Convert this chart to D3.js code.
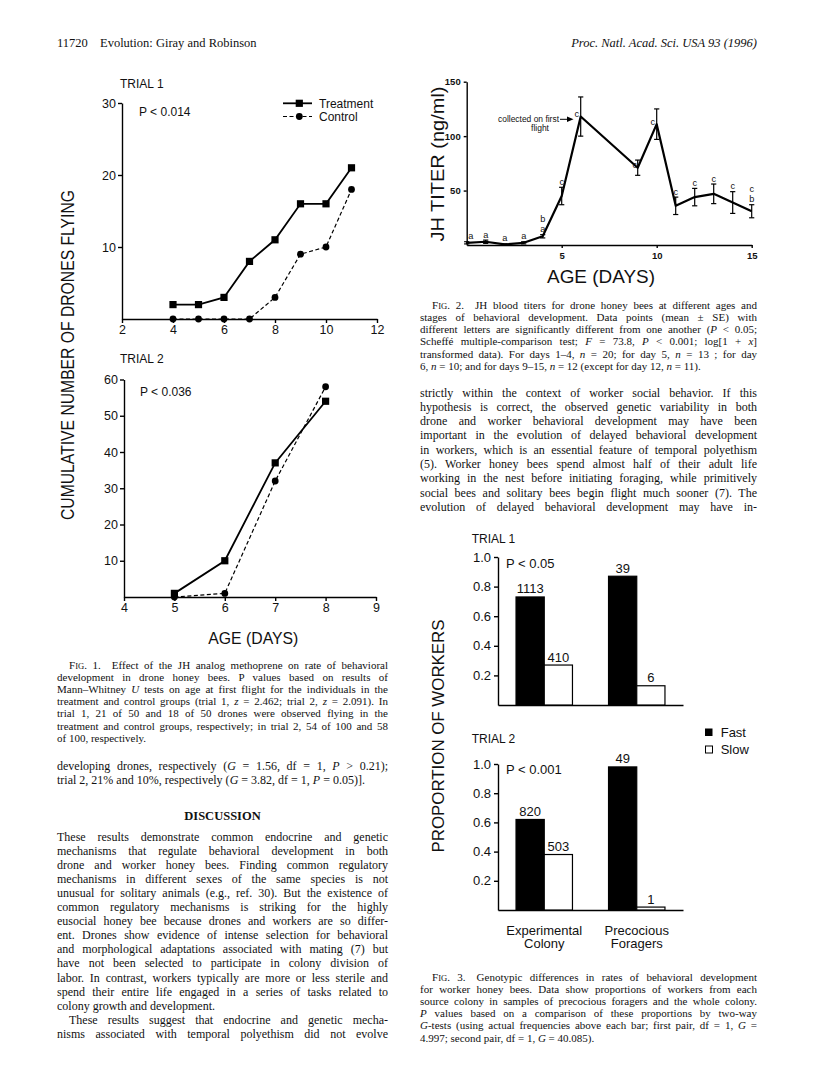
<!DOCTYPE html>
<html>
<head>
<meta charset="utf-8">
<script src="https://cdn.jsdelivr.net/npm/d3@7/dist/d3.min.js"></script>
<style>html,body{margin:0;padding:0;background:#fff}svg{display:block}</style>
</head>
<body>
<svg id="page" width="816" height="1082" xmlns="http://www.w3.org/2000/svg"></svg>
<script>
// ================= DATA =================
// Fig. 1, trial 1 (cumulative number of drones flying)
const t1Days = [4, 5, 6, 7, 8, 9, 10, 11];
const t1Treatment = [2, 2, 3, 8, 11, 16, 16, 21];
const t1Control = [0, 0, 0, 0, 3, 9, 10, 18];
const t1XTicks = [2, 4, 6, 8, 10, 12];
const t1YTicks = [10, 20, 30];
// Fig. 1, trial 2
const t2Days = [5, 6, 7, 8];
const t2Treatment = [1, 10, 37, 54];
const t2Control = [0, 1, 32, 58];
const t2XTicks = [4, 5, 6, 7, 8, 9];
const t2YTicks = [10, 20, 30, 40, 50, 60];
// Fig. 2, JH titer (ng/ml) mean and SE
const jhDays = [0, 1, 2, 3, 4, 5, 6, 9, 10, 11, 12, 13, 14, 15];
const jhMean = [2, 3, 0.5, 2, 8, 45, 118, 71, 111, 36, 44, 47, 39, 31];
const jhSE = [1, 1.5, 0.5, 1, 1.5, 8, 18, 7, 14, 8, 8, 9, 10, 6];
const jhLetters = [["a"], ["a"], ["a"], ["a"], ["b", "a"], ["c"], ["c"], ["c"], ["c"], ["c"], ["c"], ["c"], ["c"], ["c", "b"]];
const jhXTicks = [5, 10, 15];
const jhYTicks = [50, 100, 150];
// Fig. 3, proportion of workers
const f3Groups = ["Experimental Colony", "Precocious Foragers"];
const f3Sources = ["Fast", "Slow"];
const f3Trial1Prop = [[0.73, 0.27], [0.87, 0.13]];
const f3Trial1N = [[1113, 410], [39, 6]];
const f3Trial2Prop = [[0.62, 0.38], [0.98, 0.02]];
const f3Trial2N = [[820, 503], [49, 1]];
const f3YTicks = [0.2, 0.4, 0.6, 0.8, 1.0];

// ================= TEXT =================
const headerLeftNum = "11720";
const headerLeft = "Evolution: Giray and Robinson";
const headerRight = "Proc. Natl. Acad. Sci. USA 93 (1996)";

const fig1Caption = [
  "F~ig~. 1.\u2003Effect of the JH analog methoprene on rate of behavioral",
  "development in drone honey bees. P values based on results of",
  "Mann–Whitney _U_ tests on age at first flight for the individuals in the",
  "treatment and control groups (trial 1, _z_ = 2.462; trial 2, _z_ = 2.091). In",
  "trial 1, 21 of 50 and 18 of 50 drones were observed flying in the",
  "treatment and control groups, respectively; in trial 2, 54 of 100 and 58",
  "of 100, respectively."
];
const leftCont = [
  "developing drones, respectively (_G_ = 1.56, df = 1, _P_ > 0.21);",
  "trial 2, 21% and 10%, respectively (_G_ = 3.82, df = 1, _P_ = 0.05)]."
];
const discussion = [
  "These results demonstrate common endocrine and genetic",
  "mechanisms that regulate behavioral development in both",
  "drone and worker honey bees. Finding common regulatory",
  "mechanisms in different sexes of the same species is not",
  "unusual for solitary animals (e.g., ref. 30). But the existence of",
  "common regulatory mechanisms is striking for the highly",
  "eusocial honey bee because drones and workers are so differ-",
  "ent. Drones show evidence of intense selection for behavioral",
  "and morphological adaptations associated with mating (7) but",
  "have not been selected to participate in colony division of",
  "labor. In contrast, workers typically are more or less sterile and",
  "spend their entire life engaged in a series of tasks related to",
  "colony growth and development.",
  "These results suggest that endocrine and genetic mecha-",
  "nisms associated with temporal polyethism did not evolve"
];
const fig2Caption = [
  "F~ig~. 2.\u2003JH blood titers for drone honey bees at different ages and",
  "stages of behavioral development. Data points (mean ± SE) with",
  "different letters are significantly different from one another (_P_ < 0.05;",
  "Scheffé multiple-comparison test; _F_ = 73.8, _P_ < 0.001; log[1 + _x_]",
  "transformed data). For days 1–4, _n_ = 20; for day 5, _n_ = 13 ; for day",
  "6, _n_ = 10; and for days 9–15, _n_ = 12 (except for day 12, _n_ = 11)."
];
const rightBody = [
  "strictly within the context of worker social behavior. If this",
  "hypothesis is correct, the observed genetic variability in both",
  "drone and worker behavioral development may have been",
  "important in the evolution of delayed behavioral development",
  "in workers, which is an essential feature of temporal polyethism",
  "(5). Worker honey bees spend almost half of their adult life",
  "working in the nest before initiating foraging, while primitively",
  "social bees and solitary bees begin flight much sooner (7). The",
  "evolution of delayed behavioral development may have in-"
];
const fig3Caption = [
  "F~ig~. 3.\u2003Genotypic differences in rates of behavioral development",
  "for worker honey bees. Data show proportions of workers from each",
  "source colony in samples of precocious foragers and the whole colony.",
  "_P_ values based on a comparison of these proportions by two-way",
  "_G_-tests (using actual frequencies above each bar; first pair, df = 1, _G_ =",
  "4.997; second pair, df = 1, _G_ = 40.085)."
];

// ================= DRAWING =================
const svg = d3.select("#page");
svg.append("rect").attr("width", 816).attr("height", 1082).attr("fill", "#fff");
const SANS = "'Liberation Sans', Arial, Helvetica, sans-serif";
const SERIF = "'Liberation Serif', 'Times New Roman', Times, serif";
const INK = "#111";

function parseRich(str) {
  const segs = []; let cur = ""; let st = { i: false, sc: false, b: false };
  for (const ch of str) {
    if (ch === "_" || ch === "~" || ch === "*") {
      if (cur) segs.push({ t: cur, ...st }); cur = "";
      if (ch === "_") st = { ...st, i: !st.i };
      else if (ch === "~") st = { ...st, sc: !st.sc };
      else st = { ...st, b: !st.b };
    } else cur += ch;
  }
  if (cur) segs.push({ t: cur, ...st });
  return segs;
}
function textLine(x, y, str, o) {
  const t = svg.append("text").attr("x", x).attr("y", y)
    .attr("font-family", o.family || SERIF).attr("font-size", o.size)
    .attr("fill", INK).attr("text-anchor", o.anchor || "start");
  if (o.italic) t.attr("font-style", "italic");
  if (o.bold) t.attr("font-weight", "bold");
  parseRich(str).forEach(s => {
    const ts = t.append("tspan").text(s.sc ? s.t.toUpperCase() : s.t);
    if (s.i) ts.attr("font-style", "italic");
    if (s.b) ts.attr("font-weight", "bold");
    if (s.sc) ts.attr("font-size", o.size * 0.78);
  });
  if (o.justify && o.width) {
    const nat = t.node().getComputedTextLength();
    const spaces = (str.match(/ /g) || []).length;
    if (spaces > 0) t.style("word-spacing", ((o.width - nat) / spaces) + "px");
  }
  return t;
}
function block(lines, x, y0, lead, width, size, opts = {}) {
  lines.forEach((ln, i) => {
    const ind = (opts.indent && opts.indent[i]) || 0;
    const nj = (opts.noJustify || []).includes(i);
    textLine(x + ind, y0 + i * lead, ln, { size, width: width - ind, justify: !nj });
  });
}
function axisStyle(g, fs, weight) {
  g.attr("font-family", SANS).attr("font-size", fs).attr("font-weight", weight || "normal");
  g.select(".domain").attr("stroke", "#000").attr("stroke-width", 1.4);
  g.selectAll(".tick line").attr("stroke", "#000").attr("stroke-width", 1.4);
  g.selectAll(".tick text").attr("fill", INK);
}
function sansText(x, y, str, size, anchor, len) {
  const t = svg.append("text").attr("x", x).attr("y", y).attr("font-family", SANS)
    .attr("font-size", size).attr("fill", INK).attr("text-anchor", anchor || "start").text(str);
  if (len) t.attr("textLength", len).attr("lengthAdjust", "spacingAndGlyphs");
  return t;
}
function vText(xb, yc, str, size, len) {
  svg.append("text").attr("transform", `translate(${xb},${yc}) rotate(-90)`)
    .attr("text-anchor", "middle").attr("font-family", SANS).attr("font-size", size)
    .attr("fill", INK).attr("textLength", len).attr("lengthAdjust", "spacingAndGlyphs").text(str);
}

// ---------- Header ----------
textLine(57, 47, headerLeftNum, { size: 12.5 });
textLine(100, 47, headerLeft, { size: 12.5 });
textLine(757, 47, headerRight, { size: 12.5, anchor: "end", italic: true });

// ---------- Fig. 1 ----------
function fig1Panel(o) {
  const x = d3.scaleLinear().domain(o.xDom).range(o.xRange);
  const y = d3.scaleLinear().domain(o.yDom).range(o.yRange);
  const g = svg.append("g");
  g.append("g").attr("transform", `translate(0,${o.yRange[0]})`)
    .call(d3.axisBottom(x).tickValues(o.xTicks).tickSize(4).tickSizeOuter(0).tickPadding(2).tickFormat(d3.format("d")))
    .call(a => axisStyle(a, 12.5));
  g.append("g").attr("transform", `translate(${o.xRange[0]},0)`)
    .call(d3.axisLeft(y).tickValues(o.yTicks).tickSize(4).tickSizeOuter(0).tickPadding(2).tickFormat(d3.format("d")))
    .call(a => axisStyle(a, 12.5));
  const line = d3.line().x(d => x(d[0])).y(d => y(d[1]));
  const ctrl = d3.zip(o.days, o.ctrl), trt = d3.zip(o.days, o.trt);
  g.append("path").datum(ctrl).attr("d", line).attr("fill", "none").attr("stroke", "#000")
    .attr("stroke-width", 1.2).attr("stroke-dasharray", "4,2.5");
  g.append("path").datum(trt).attr("d", line).attr("fill", "none").attr("stroke", "#000").attr("stroke-width", 1.8);
  g.selectAll(null).data(ctrl).join("circle").attr("cx", d => x(d[0])).attr("cy", d => y(d[1])).attr("r", 3.4).attr("fill", "#000");
  g.selectAll(null).data(trt).join("rect").attr("x", d => x(d[0]) - 3.6).attr("y", d => y(d[1]) - 3.6)
    .attr("width", 7.2).attr("height", 7.2).attr("fill", "#000");
}
fig1Panel({ xDom: [2, 12], xRange: [122, 377], yDom: [0, 30], yRange: [319, 103],
  xTicks: t1XTicks, yTicks: t1YTicks, days: t1Days, trt: t1Treatment, ctrl: t1Control });
fig1Panel({ xDom: [4, 9], xRange: [124, 376], yDom: [0, 60], yRange: [597, 379.5],
  xTicks: t2XTicks, yTicks: t2YTicks, days: t2Days, trt: t2Treatment, ctrl: t2Control });
sansText(120, 87.7, "TRIAL 1", 12);
sansText(139, 116, "P < 0.014", 12);
sansText(120, 363, "TRIAL 2", 12);
sansText(140, 396, "P < 0.036", 12);
// legend
svg.append("line").attr("x1", 283).attr("x2", 312).attr("y1", 103.3).attr("y2", 103.3).attr("stroke", "#000").attr("stroke-width", 1.8);
svg.append("rect").attr("x", 295.7).attr("y", 99.7).attr("width", 7.2).attr("height", 7.2).attr("fill", "#000");
svg.append("line").attr("x1", 283).attr("x2", 312).attr("y1", 116.5).attr("y2", 116.5).attr("stroke", "#000").attr("stroke-width", 1.2).attr("stroke-dasharray", "4,2.5");
svg.append("circle").attr("cx", 299.3).attr("cy", 116.5).attr("r", 3.4).attr("fill", "#000");
sansText(319, 107.7, "Treatment", 12);
sansText(319, 120.5, "Control", 12);
vText(74, 355, "CUMULATIVE NUMBER OF DRONES FLYING", 18, 330);
sansText(253.3, 644, "AGE (DAYS)", 17, "middle", 90);

// ---------- Fig. 2 ----------
{
  const x = d3.scaleLinear().domain([0, 15]).range([466.7, 751.7]);
  const y = d3.scaleLinear().domain([0, 150]).range([245, 81.7]);
  svg.append("g").attr("transform", "translate(0,245)")
    .call(d3.axisBottom(x).tickValues(jhXTicks).tickSize(3).tickSizeOuter(0).tickPadding(4).tickFormat(d3.format("d")))
    .call(a => axisStyle(a, 9.5, "bold"));
  svg.append("g").attr("transform", "translate(466.7,0)")
    .call(d3.axisLeft(y).tickValues(jhYTicks).tickSize(3).tickSizeOuter(0).tickPadding(3).tickFormat(d3.format("d")))
    .call(a => axisStyle(a, 9.5, "bold"));
  const pts = jhDays.map((d, i) => ({ d, m: jhMean[i], se: jhSE[i], L: jhLetters[i] }));
  const g = svg.append("g");
  pts.forEach(p => {
    const cx = x(p.d);
    g.append("line").attr("x1", cx).attr("x2", cx).attr("y1", y(p.m + p.se)).attr("y2", y(Math.max(0, p.m - p.se)))
      .attr("stroke", "#000").attr("stroke-width", 1.2);
    [p.m + p.se, Math.max(0, p.m - p.se)].forEach(v => g.append("line").attr("x1", cx - 2.6).attr("x2", cx + 2.6)
      .attr("y1", y(v)).attr("y2", y(v)).attr("stroke", "#000").attr("stroke-width", 1.2));
  });
  g.append("path").datum(pts).attr("d", d3.line().x(p => x(p.d)).y(p => y(p.m)))
    .attr("fill", "none").attr("stroke", "#000").attr("stroke-width", 2.2).attr("stroke-linejoin", "round");
  // significance letters
  const beside = { 6: -4, 9: -3, 10: -4 };
  const shift = { 0: 4 };
  pts.forEach(p => {
    let base, dx = 0;
    if (p.d in beside) { base = y(p.m) + 0.5; dx = beside[p.d]; }
    else { base = y(p.m + p.se) - 2.5; dx = shift[p.d] || 0; }
    const n = p.L.length;
    p.L.forEach((l, k) => {
      sansText(x(p.d) + dx, base - (n - 1 - k) * 10.3, l, 9.2, "middle");
    });
  });
  // annotation
  svg.append("text").attr("x", 559).attr("y", 122).attr("text-anchor", "end").attr("font-family", SANS)
    .attr("font-size", 8.5).attr("fill", INK).attr("textLength", 61).attr("lengthAdjust", "spacingAndGlyphs").text("collected on first");
  sansText(540, 131.2, "flight", 8.5, "middle");
  svg.append("line").attr("x1", 560).attr("x2", 568).attr("y1", 119.3).attr("y2", 119.3).attr("stroke", "#000").attr("stroke-width", 1);
  svg.append("path").attr("d", "M567,116.6 L573.5,119.3 L567,122 Z").attr("fill", "#000");
  vText(444, 164, "JH TITER (ng/ml)", 18, 155);
  sansText(601, 282.7, "AGE (DAYS)", 19, "middle", 108);
}

// ---------- Fig. 3 ----------
function fig3Panel(o) {
  const x0 = d3.scaleBand().domain(f3Groups).range([498, 683]).paddingInner(0.39).paddingOuter(0.195);
  const x1 = d3.scaleBand().domain(f3Sources).range([0, x0.bandwidth()]);
  const y = d3.scaleLinear().domain([0, 1]).range(o.yRange);
  svg.append("g").attr("transform", `translate(0,${o.yRange[0]})`)
    .call(d3.axisBottom(x0).tickSize(0).tickSizeOuter(0).tickFormat(""))
    .call(a => axisStyle(a, 12));
  svg.append("g").attr("transform", "translate(498,0)")
    .call(d3.axisLeft(y).tickValues(f3YTicks).tickSize(4).tickSizeOuter(0).tickPadding(3).tickFormat(d3.format(".1f")))
    .call(a => axisStyle(a, 13));
  f3Groups.forEach((grp, gi) => {
    f3Sources.forEach((src, si) => {
      const v = o.prop[gi][si];
      const bx = x0(grp) + x1(src);
      svg.append("rect").attr("x", bx).attr("y", y(v)).attr("width", x1.bandwidth()).attr("height", y(0) - y(v))
        .attr("fill", src === "Fast" ? "#000" : "#fff").attr("stroke", "#000").attr("stroke-width", 1.2);
      sansText(bx + x1.bandwidth() / 2, y(v) - 3.5, String(o.n[gi][si]), 13, "middle");
    });
  });
  return x0;
}
const fx = fig3Panel({ yRange: [705, 557], prop: f3Trial1Prop, n: f3Trial1N });
fig3Panel({ yRange: [910, 764], prop: f3Trial2Prop, n: f3Trial2N });
sansText(471.7, 542.7, "TRIAL 1", 12);
sansText(506, 568, "P < 0.05", 13);
sansText(471.7, 742.5, "TRIAL 2", 12);
sansText(506, 774, "P < 0.001", 13);
f3Groups.forEach(grp => {
  const cx = fx(grp) + fx.bandwidth() / 2;
  grp.split(" ").forEach((w, k) => sansText(cx, 934.5 + k * 13, w, 13, "middle"));
});
svg.append("rect").attr("x", 705).attr("y", 728.5).attr("width", 7.5).attr("height", 7.5).attr("fill", "#000");
svg.append("rect").attr("x", 705.5).attr("y", 746).attr("width", 7).attr("height", 7).attr("fill", "#fff").attr("stroke", "#000").attr("stroke-width", 1);
sansText(720.7, 736.5, "Fast", 13);
sansText(720.7, 754, "Slow", 13);
vText(444, 736, "PROPORTION OF WORKERS", 17, 233);

// ---------- Text blocks ----------
const LX = 57, LW = 331, RX = 420, RW = 337;
block(fig1Caption, LX, 668.5, 12.2, LW, 11, { indent: { 0: 12 }, noJustify: [6] });
block(leftCont, LX, 769.5, 14.2, LW, 12, { noJustify: [1] });
textLine((LX + LX + LW) / 2, 819.5, "DISCUSSION", { size: 12.5, bold: true, anchor: "middle" });
block(discussion, LX, 840.5, 14.1, LW, 12, { indent: { 13: 12 }, noJustify: [12] });
block(fig2Caption, RX, 308.5, 12.3, RW, 11, { indent: { 0: 12 }, noJustify: [5] });
block(rightBody, RX, 396.5, 14.3, RW, 12, {});
block(fig3Caption, RX, 980.5, 12.2, RW, 11, { indent: { 0: 12 }, noJustify: [5] });
</script>
</body>
</html>
